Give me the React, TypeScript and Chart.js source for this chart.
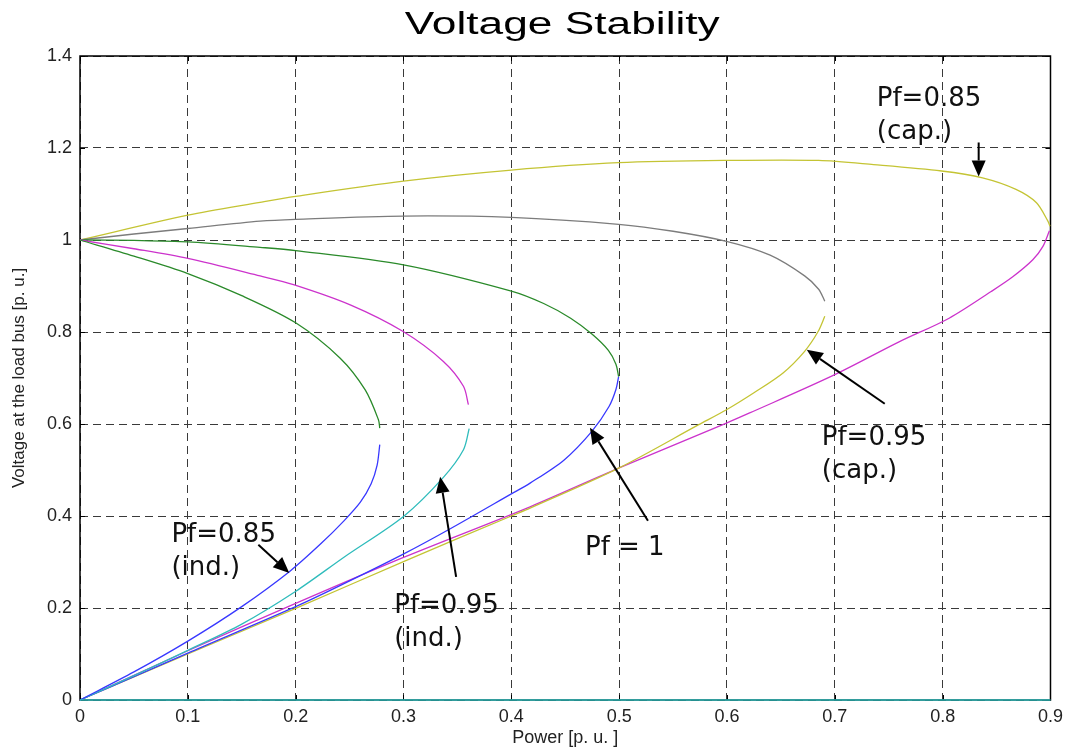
import React, { useEffect, useRef } from 'react';
import { Chart, registerables } from 'chart.js';

Chart.register(...registerables);

const chartTitle = 'Voltage Stability';
const xAxisTitle = 'Power [p. u. ]';
const yAxisTitle = 'Voltage at the load bus [p. u.]';

const xTickLabels = ['0', '0.1', '0.2', '0.3', '0.4', '0.5', '0.6', '0.7', '0.8', '0.9'];
const yTickLabels = ['0', '0.2', '0.4', '0.6', '0.8', '1', '1.2', '1.4'];

// Pf = 0.85 (ind.)
const pf085IndUpperP = [0, 0.05, 0.1, 0.15, 0.2, 0.2413, 0.2645, 0.2768, 0.278];
const pf085IndUpperV = [1, 0.965, 0.927, 0.879, 0.82, 0.743, 0.674, 0.609, 0.591];
const pf085IndLowerP = [0.278, 0.2755, 0.27, 0.26, 0.245, 0.2235, 0.1947, 0.15, 0.1, 0.05, 0];
const pf085IndLowerV = [0.555, 0.51, 0.47, 0.43, 0.39, 0.34, 0.28, 0.203, 0.128, 0.061, 0];

// Pf = 0.95 (ind.)
const pf095IndUpperP = [0, 0.05, 0.1, 0.167, 0.198, 0.2506, 0.2997, 0.337, 0.3556, 0.3602];
const pf095IndUpperV = [1, 0.981, 0.96, 0.922, 0.903, 0.859, 0.801, 0.736, 0.682, 0.642];
const pf095IndLowerP = [0.3609, 0.3556, 0.337, 0.3, 0.2458, 0.1998, 0.15, 0.1, 0.05, 0];
const pf095IndLowerV = [0.59, 0.544, 0.484, 0.399, 0.312, 0.236, 0.165, 0.108, 0.053, 0];

// Pf = 1
const pf1UpperP = [0, 0.05, 0.1, 0.167, 0.2, 0.3, 0.4, 0.43, 0.455, 0.475, 0.49, 0.497, 0.4995];
const pf1UpperV = [1, 0.999, 0.996, 0.984, 0.977, 0.946, 0.889, 0.862, 0.83, 0.795, 0.76, 0.73, 0.703];
const pf1LowerP = [0.4995, 0.497, 0.4906, 0.4747, 0.449, 0.4174, 0.4, 0.3417, 0.2998, 0.2458, 0.2, 0.1, 0.05, 0];
const pf1LowerV = [0.703, 0.675, 0.638, 0.584, 0.522, 0.4715, 0.448, 0.37, 0.317, 0.254, 0.203, 0.102, 0.0505, 0];

// Pf = 0.95 (cap.)
const pf095CapUpperP = [0, 0.05, 0.1, 0.167, 0.2, 0.3, 0.4, 0.4995, 0.55, 0.5995, 0.64, 0.672, 0.685, 0.6907];
const pf095CapUpperV = [1, 1.013, 1.025, 1.041, 1.045, 1.052, 1.049, 1.034, 1.019, 0.997, 0.967, 0.922, 0.893, 0.867];
const pf095CapLowerP = [0.6907, 0.6845, 0.672, 0.652, 0.625, 0.5995, 0.5734, 0.4995, 0.4174, 0.4, 0.3, 0.2, 0.1, 0];
const pf095CapLowerV = [0.834, 0.801, 0.758, 0.711, 0.668, 0.631, 0.598, 0.504, 0.417, 0.4, 0.301, 0.199, 0.1, 0];

// Pf = 0.85 (cap.)
const pf085CapUpperP = [0, 0.1, 0.167, 0.2, 0.3, 0.4, 0.4995, 0.5995, 0.685, 0.7359, 0.799, 0.837, 0.868, 0.887, 0.8976, 0.8995];
const pf085CapUpperV = [1, 1.054, 1.082, 1.095, 1.128, 1.152, 1.168, 1.173, 1.173, 1.164, 1.15, 1.135, 1.11, 1.081, 1.041, 1.03];
const pf085CapLowerP = [0.899, 0.893, 0.8836, 0.865, 0.845, 0.806, 0.76, 0.698, 0.621, 0.5995, 0.4995, 0.4174, 0.3, 0.2, 0.1, 0];
const pf085CapLowerV = [1.02, 0.986, 0.957, 0.92, 0.888, 0.83, 0.779, 0.705, 0.624, 0.602, 0.504, 0.42, 0.31, 0.21, 0.107, 0];

// flat line along the bottom
const zeroLineP = [0, 0.9];
const zeroLineV = [0, 0];

// annotations (text anchor in data units, arrows from -> tip)
const annotationTexts = [
  ['Pf=0.85', '(cap.)'],
  ['Pf=0.95', '(cap.)'],
  ['Pf = 1'],
  ['Pf=0.85', '(ind.)'],
  ['Pf=0.95', '(ind.)'],
];
const annotationAnchorP = [0.7389, 0.6879, 0.4683, 0.0848, 0.2914];
const annotationAnchorV = [1.2903, 0.5548, 0.3155, 0.3438, 0.1893];
const arrowFromP = [0.8334, 0.7463, 0.5267, 0.1654, 0.3488];
const arrowFromV = [1.212, 0.644, 0.3895, 0.3373, 0.2676];
const arrowToP = [0.8334, 0.674, 0.4729, 0.1941, 0.334];
const arrowToV = [1.138, 0.7615, 0.5918, 0.2763, 0.4852];

const toPts = (p: number[], v: number[]) => p.map((x, i) => ({ x, y: v[i] }));

const GREEN = '#2a8a2a';
const MAGENTA = '#cc33cc';
const BLUE = '#3838ff';
const CYAN = '#2fbcbc';
const GRAY = '#7c7c7c';
const YELLOW = '#c4c434';

const FONT = '"Liberation Sans", Arial, sans-serif';

const decorPlugin = {
  id: 'decor',
  beforeDatasetsDraw(chart: any) {
    const { ctx, chartArea } = chart;
    const xs = chart.scales.x;
    const ys = chart.scales.y;
    ctx.save();
    ctx.strokeStyle = '#000';
    ctx.lineWidth = 1.5;
    ctx.setLineDash([]);
    ctx.strokeRect(chartArea.left, chartArea.top, chartArea.right - chartArea.left, chartArea.bottom - chartArea.top);
    ctx.lineWidth = 1;
    xs.ticks.forEach((t: any) => {
      const px = Math.round(xs.getPixelForValue(t.value)) + 0.5;
      ctx.beginPath();
      ctx.moveTo(px, chartArea.bottom);
      ctx.lineTo(px, chartArea.bottom - 5);
      ctx.moveTo(px, chartArea.top);
      ctx.lineTo(px, chartArea.top + 5);
      ctx.stroke();
    });
    ys.ticks.forEach((t: any) => {
      const py = Math.round(ys.getPixelForValue(t.value)) + 0.5;
      ctx.beginPath();
      ctx.moveTo(chartArea.left, py);
      ctx.lineTo(chartArea.left + 5, py);
      ctx.moveTo(chartArea.right, py);
      ctx.lineTo(chartArea.right - 5, py);
      ctx.stroke();
    });
    ctx.restore();
  },
  afterDatasetsDraw(chart: any) {
    const { ctx, chartArea } = chart;
    const xs = chart.scales.x;
    const ys = chart.scales.y;
    ctx.save();
    // title (horizontally stretched like the source image)
    ctx.font = '31px ' + FONT;
    ctx.fillStyle = '#000';
    ctx.textAlign = 'center';
    ctx.textBaseline = 'alphabetic';
    const w = ctx.measureText(chartTitle).width;
    ctx.save();
    ctx.translate((chartArea.left + chartArea.right) / 2 - 3, 34);
    ctx.scale(315 / w, 1);
    ctx.fillText(chartTitle, 0, 0);
    ctx.restore();

    // annotation text
    ctx.font = '26px "DejaVu Sans", sans-serif';
    ctx.fillStyle = '#111';
    ctx.textAlign = 'left';
    annotationTexts.forEach((lines, i) => {
      const x = xs.getPixelForValue(annotationAnchorP[i]);
      const y = ys.getPixelForValue(annotationAnchorV[i]);
      lines.forEach((ln, j) => ctx.fillText(ln, x, y + j * 33));
    });

    // arrows
    ctx.strokeStyle = '#000';
    ctx.fillStyle = '#000';
    ctx.lineWidth = 2;
    arrowFromP.forEach((_, i) => {
      const x1 = xs.getPixelForValue(arrowFromP[i]);
      const y1 = ys.getPixelForValue(arrowFromV[i]);
      const x2 = xs.getPixelForValue(arrowToP[i]);
      const y2 = ys.getPixelForValue(arrowToV[i]);
      const ang = Math.atan2(y2 - y1, x2 - x1);
      const hl = 16;
      const hw = 7;
      const bx = x2 - hl * Math.cos(ang);
      const by = y2 - hl * Math.sin(ang);
      ctx.beginPath();
      ctx.moveTo(x1, y1);
      ctx.lineTo(bx, by);
      ctx.stroke();
      ctx.beginPath();
      ctx.moveTo(x2, y2);
      ctx.lineTo(bx + hw * Math.sin(ang), by - hw * Math.cos(ang));
      ctx.lineTo(bx - hw * Math.sin(ang), by + hw * Math.cos(ang));
      ctx.closePath();
      ctx.fill();
    });
    ctx.restore();
  },
};

function line(label: string, p: number[], v: number[], color: string) {
  return {
    label,
    data: toPts(p, v),
    borderColor: color,
    backgroundColor: color,
    borderWidth: 1.3,
    pointRadius: 0,
    pointHoverRadius: 0,
    showLine: true,
    tension: 0.3,
    fill: false,
    clip: 4,
  };
}

export default function App() {
  const canvasRef = useRef<HTMLCanvasElement | null>(null);

  useEffect(() => {
    document.body.style.margin = '0';
    const canvas = canvasRef.current;
    if (!canvas) return;
    const chart = new Chart(canvas, {
      type: 'scatter',
      data: {
        datasets: [
          line('zero', zeroLineP, zeroLineV, CYAN),
          line('Pf=0.85 ind upper', pf085IndUpperP, pf085IndUpperV, GREEN),
          line('Pf=0.85 ind lower', pf085IndLowerP, pf085IndLowerV, BLUE),
          line('Pf=0.95 ind upper', pf095IndUpperP, pf095IndUpperV, MAGENTA),
          line('Pf=0.95 ind lower', pf095IndLowerP, pf095IndLowerV, CYAN),
          line('Pf=1 upper', pf1UpperP, pf1UpperV, GREEN),
          line('Pf=1 lower', pf1LowerP, pf1LowerV, BLUE),
          line('Pf=0.95 cap upper', pf095CapUpperP, pf095CapUpperV, GRAY),
          line('Pf=0.95 cap lower', pf095CapLowerP, pf095CapLowerV, YELLOW),
          line('Pf=0.85 cap upper', pf085CapUpperP, pf085CapUpperV, YELLOW),
          line('Pf=0.85 cap lower', pf085CapLowerP, pf085CapLowerV, MAGENTA),
        ],
      },
      options: {
        responsive: false,
        animation: false,
        devicePixelRatio: 1,
        layout: { padding: { top: 56, right: 18, left: 0, bottom: 0 } },
        plugins: {
          legend: { display: false },
          tooltip: { enabled: false },
          title: { display: false },
        },
        scales: {
          x: {
            type: 'linear',
            min: 0,
            max: 0.9,
            afterFit: (s: any) => { s.height = 49; },
            ticks: {
              stepSize: 0.1,
              padding: 6,
              color: '#222',
              font: { family: FONT, size: 18 },
              maxRotation: 0,
              callback: (_v: any, i: number) => xTickLabels[i],
            },
            grid: { color: '#3a3a3a', lineWidth: 1, drawTicks: false },
            border: { display: false, dash: [8, 5] },
            title: {
              display: true,
              text: xAxisTitle,
              color: '#222',
              font: { family: FONT, size: 18 },
              padding: { top: 0, bottom: 0 },
            },
          },
          y: {
            type: 'linear',
            min: 0,
            max: 1.4,
            afterFit: (s: any) => { s.width = 80; },
            ticks: {
              stepSize: 0.2,
              padding: 8,
              color: '#222',
              font: { family: FONT, size: 18 },
              callback: (_v: any, i: number) => yTickLabels[i],
            },
            grid: { color: '#3a3a3a', lineWidth: 1, drawTicks: false },
            border: { display: false, dash: [8, 5] },
            title: {
              display: true,
              text: yAxisTitle,
              color: '#222',
              font: { family: FONT, size: 17 },
              padding: { top: 9, bottom: 0 },
            },
          },
        },
      },
      plugins: [decorPlugin],
    } as any);
    return () => chart.destroy();
  }, []);

  return (
    <div style={{ width: 1069, height: 749 }}>
      <canvas ref={canvasRef} width={1069} height={749} style={{ display: 'block' }} />
    </div>
  );
}
